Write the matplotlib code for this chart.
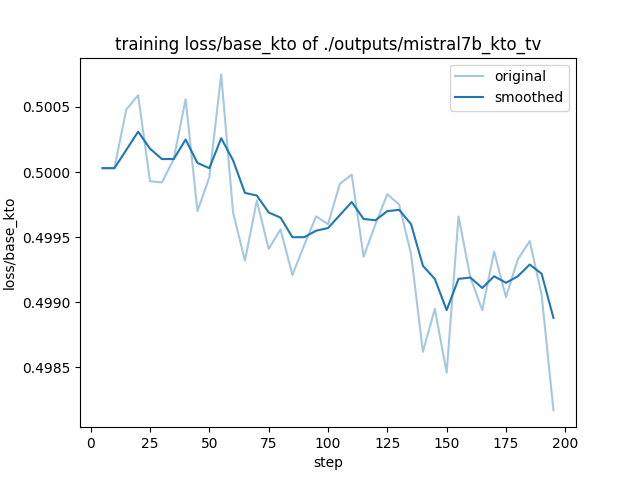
import matplotlib
matplotlib.use("Agg")
import matplotlib.pyplot as plt

steps = list(range(5, 200, 5))

original = [0.50003, 0.50003, 0.50048, 0.50059, 0.49993, 0.49992, 0.50010, 0.50056,
            0.49970, 0.49996, 0.50075, 0.49969, 0.49932, 0.49978, 0.49941, 0.49956,
            0.49921, 0.49944, 0.49966, 0.49960, 0.49991, 0.49998, 0.49935, 0.49960,
            0.49983, 0.49975, 0.49937, 0.49862, 0.49895, 0.49846, 0.49966, 0.49919,
            0.49894, 0.49939, 0.49904, 0.49933, 0.49947, 0.49906, 0.49817]

smoothed = [0.50003, 0.50003, 0.50017, 0.50031, 0.50018, 0.50010, 0.50010, 0.50025,
            0.50007, 0.50003, 0.50026, 0.50009, 0.49984, 0.49982, 0.49969, 0.49965,
            0.49950, 0.49950, 0.49955, 0.49957, 0.49967, 0.49977, 0.49964, 0.49963,
            0.49970, 0.49971, 0.49960, 0.49928, 0.49918, 0.49894, 0.49918, 0.49919,
            0.49911, 0.49920, 0.49915, 0.49920, 0.49929, 0.49922, 0.49888]

fig, ax = plt.subplots(figsize=(6.4, 4.8), dpi=100)
ax.plot(steps, original, color="#1f77b4", alpha=0.4, label="original")
ax.plot(steps, smoothed, color="#1f77b4", label="smoothed")
ax.set_title("training loss/base_kto of ./outputs/mistral7b_kto_tv")
ax.set_xlabel("step")
ax.set_ylabel("loss/base_kto")
ax.legend(loc="upper right")
fig.savefig("out.png", dpi=100)
